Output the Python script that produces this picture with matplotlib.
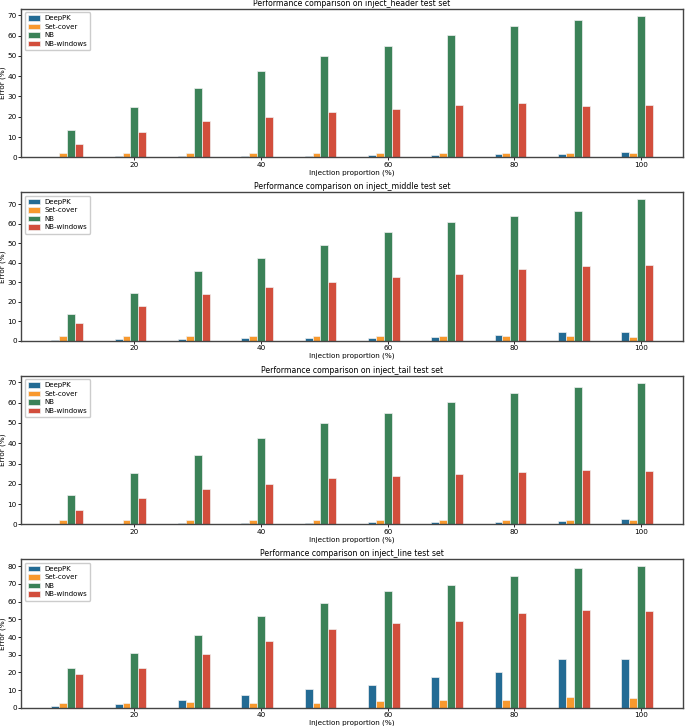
import numpy as np
import matplotlib
matplotlib.use("Agg")
import matplotlib.pyplot as plt

proportions = [10, 20, 30, 40, 50, 60, 70, 80, 90, 100]
methods = ["DeepPK", "Set-cover", "NB", "NB-windows"]
titles = ["Performance comparison on inject_header test set",
          "Performance comparison on inject_middle test set",
          "Performance comparison on inject_tail test set",
          "Performance comparison on inject_line test set"]

header_deeppk = [0.3, 0.4, 0.5, 0.8, 0.8, 1.0, 1.3, 1.6, 1.7, 2.5]
header_setcover = [2.0, 2.0, 2.0, 2.0, 2.0, 2.0, 2.0, 2.0, 2.0, 2.0]
header_nb = [13.7, 25.0, 34.3, 42.7, 50.0, 54.7, 60.1, 64.9, 67.7, 69.8]
header_nbw = [6.8, 12.6, 17.7, 19.7, 22.1, 24.0, 25.8, 26.7, 25.5, 26.0]

middle_deeppk = [0.6, 0.7, 1.0, 1.3, 1.3, 1.6, 2.0, 3.2, 4.4, 4.7]
middle_setcover = [2.3, 2.3, 2.3, 2.3, 2.3, 2.4, 2.3, 2.3, 2.3, 2.0]
middle_nb = [13.5, 24.5, 36.0, 42.4, 48.9, 55.8, 61.0, 64.0, 66.7, 72.5]
middle_nbw = [9.2, 17.9, 24.0, 27.5, 30.0, 32.7, 34.0, 36.9, 38.3, 39.0]

tail_deeppk = [0.3, 0.4, 0.5, 0.6, 0.9, 1.0, 1.1, 1.3, 1.6, 2.4]
tail_setcover = [2.0, 2.0, 2.0, 2.0, 2.0, 2.0, 2.0, 2.0, 2.0, 2.0]
tail_nb = [14.5, 25.2, 34.2, 42.7, 50.0, 54.7, 60.2, 64.8, 67.6, 69.8]
tail_nbw = [7.1, 13.2, 17.4, 20.0, 22.7, 24.0, 25.0, 26.0, 26.6, 26.5]

line_deeppk = [0.9, 2.0, 4.6, 7.4, 10.7, 12.9, 17.2, 20.5, 27.7, 27.7]
line_setcover = [2.5, 2.6, 3.1, 2.6, 3.0, 3.7, 4.3, 4.4, 6.0, 5.7]
line_nb = [22.5, 31.0, 41.0, 51.6, 59.3, 65.8, 69.1, 74.7, 79.1, 79.9]
line_nbw = [18.9, 22.5, 30.3, 37.7, 44.5, 48.0, 49.2, 53.4, 55.5, 54.7]

datasets = [
    [header_deeppk, header_setcover, header_nb, header_nbw],
    [middle_deeppk, middle_setcover, middle_nb, middle_nbw],
    [tail_deeppk, tail_setcover, tail_nb, tail_nbw],
    [line_deeppk, line_setcover, line_nb, line_nbw],
]

colors = ["#236b94", "#f8992e", "#3b8258", "#d24e3c"]
offsets = [-2, -1, 0, 1]
width = 1.25

fig, axes = plt.subplots(4, 1, figsize=(6.85, 7.26), dpi=100)
fig.subplots_adjust(left=0.031, right=0.997, top=0.988, bottom=0.025, hspace=0.235)

x = np.array(proportions, dtype=float)
for ax, title, data in zip(axes, titles, datasets):
    for vals, name, col, off in zip(data, methods, colors, offsets):
        ax.bar(x + off * width, vals, width=width, color=col, label=name,
               edgecolor="#f0f0f0", linewidth=0.5)
    ax.set_title(title, fontsize=5.6, pad=2)
    ax.set_xlabel("Injection proportion (%)", fontsize=5.2, labelpad=1)
    ax.set_ylabel("Error (%)", fontsize=5.2, labelpad=1)
    ax.set_xticks([20, 40, 60, 80, 100])
    ax.tick_params(labelsize=5.2, length=2, width=0.6, pad=1.2)
    for sp in ax.spines.values():
        sp.set_color("#444444")
        sp.set_linewidth(1.0)
    ax.legend(loc="upper left", fontsize=5.0, handlelength=1.8, handleheight=0.8,
              borderpad=0.45, labelspacing=0.35, handletextpad=0.6,
              framealpha=1.0, edgecolor="#cccccc", fancybox=True)

fig.savefig("out.png", dpi=100)
